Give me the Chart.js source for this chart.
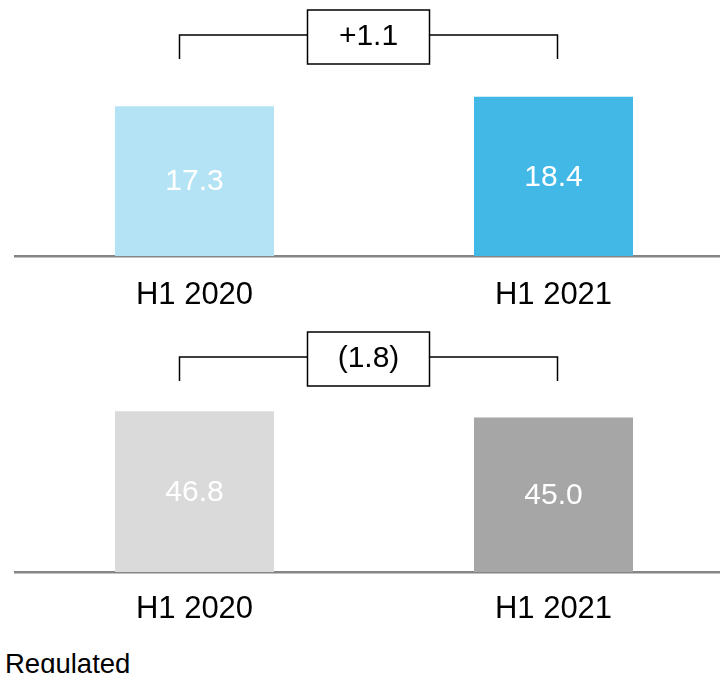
<!DOCTYPE html>
<html>
<head>
<meta charset="utf-8">
<script src="https://cdn.jsdelivr.net/npm/chart.js@4.4.0/dist/chart.umd.min.js"></script>
<style>
  html, body { margin: 0; padding: 0; background: #fff; overflow: hidden; }
  body { width: 720px; height: 673px; position: relative; }
  canvas { position: absolute; left: 0; }
  #top { top: 0; }
  #bottom { top: 320px; }
  #note {
    position: absolute; left: 5px; top: 650px;
    font: 27.5px "Liberation Sans", Arial, sans-serif; line-height: 27px; color: #000;
  }
</style>
</head>
<body>
<canvas id="top" width="740" height="316"></canvas>
<canvas id="bottom" width="740" height="312"></canvas>
<div id="note">Regulated</div>
<script>
// Data
const periods = ['H1 2020', 'H1 2021'];
const topValues = [17.3, 18.4];
const bottomValues = [46.8, 45.0];
const topColors = ['#B3E3F5', '#41B8E6'];
const bottomColors = ['#DADADA', '#A6A6A6'];

const FONT = '"Liberation Sans", Arial, sans-serif';

// Value labels inside bars and the delta bracket above them
const barDecor = {
    id: 'barDecor',
    afterDatasetsDraw(chart, args, opts) {
        const ctx = chart.ctx;
        const bars = chart.getDatasetMeta(0).data;
        const values = chart.data.datasets[0].data;

        ctx.save();
        ctx.font = '30px ' + FONT;
        ctx.fillStyle = '#ffffff';
        ctx.textAlign = 'center';
        ctx.textBaseline = 'middle';
        bars.forEach((bar, i) => {
            ctx.fillText(values[i].toFixed(1), bar.x, (bar.y + bar.base) / 2 + 1);
        });

        // bracket
        const y = opts.bracketY;
        const x1 = bars[0].x - 15;
        const x2 = bars[1].x + 4;
        const mid = (x1 + x2) / 2;
        ctx.strokeStyle = '#000';
        ctx.lineWidth = 1.5;
        ctx.beginPath();
        ctx.moveTo(x1, y + 24);
        ctx.lineTo(x1, y);
        ctx.lineTo(x2, y);
        ctx.lineTo(x2, y + 24);
        ctx.stroke();

        const boxW = 122, boxH = 54;
        ctx.fillStyle = '#fff';
        ctx.fillRect(mid - boxW / 2, y - 25, boxW, boxH);
        ctx.strokeRect(mid - boxW / 2, y - 25, boxW, boxH);

        const diff = values[1] - values[0];
        const label = diff >= 0 ? '+' + diff.toFixed(1) : '(' + Math.abs(diff).toFixed(1) + ')';
        ctx.fillStyle = '#000';
        ctx.fillText(label, mid, y + 2);
        ctx.restore();
    }
};

function makeChart(id, values, colors, yMax, padTop, tickPad, bracketY) {
    return new Chart(document.getElementById(id), {
        type: 'bar',
        data: {
            labels: periods,
            datasets: [{
                data: values,
                backgroundColor: colors,
                borderWidth: 0,
                categoryPercentage: 1,
                barPercentage: 0.443
            }]
        },
        options: {
            responsive: false,
            animation: false,
            layout: { padding: { left: 15, right: 7, top: padTop, bottom: 0 } },
            plugins: {
                legend: { display: false },
                tooltip: { enabled: false },
                barDecor: { bracketY: bracketY }
            },
            scales: {
                x: {
                    z: 1,
                    grid: { display: false, drawTicks: false },
                    border: { display: true, color: '#858585', width: 2.5 },
                    ticks: {
                        color: '#000',
                        padding: tickPad,
                        font: { family: FONT, size: 31 }
                    },
                    afterFit: (scale) => { scale.height = 60; }
                },
                y: {
                    display: false,
                    min: 0,
                    max: yMax
                }
            }
        },
        plugins: [barDecor]
    });
}

makeChart('top', topValues, topColors, 20, 83, 21, 35);
makeChart('bottom', bottomValues, bottomColors, 60, 46, 19, 37);
</script>
</body>
</html>
